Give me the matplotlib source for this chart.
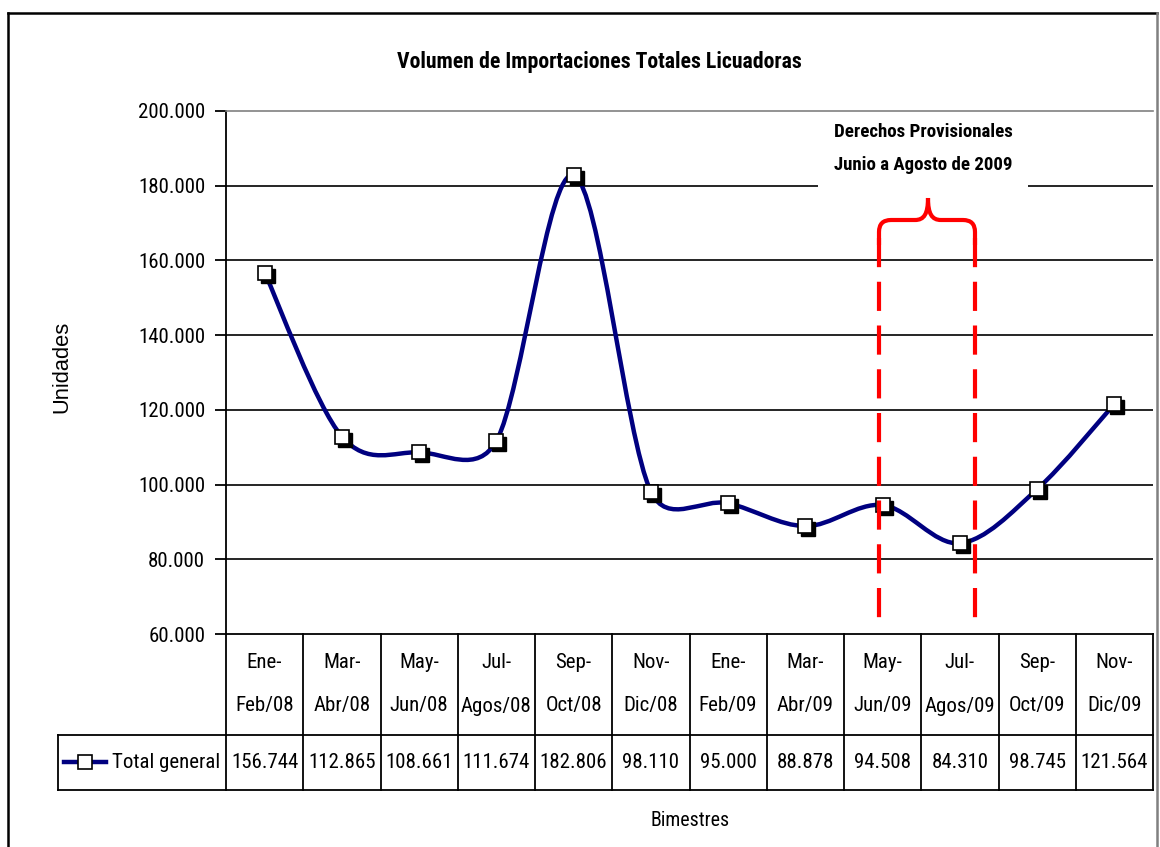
import matplotlib
matplotlib.use("Agg")
import matplotlib.pyplot as plt
import matplotlib.transforms as mtransforms
import matplotlib.font_manager as fm
from matplotlib.font_manager import FontProperties
from matplotlib.path import Path
from matplotlib.patches import PathPatch, Rectangle
from matplotlib.lines import Line2D
import numpy as np

# ---------------- data ----------------
categories = ["Ene-\nFeb/08", "Mar-\nAbr/08", "May-\nJun/08", "Jul-\nAgos/08",
              "Sep-\nOct/08", "Nov-\nDic/08", "Ene-\nFeb/09", "Mar-\nAbr/09",
              "May-\nJun/09", "Jul-\nAgos/09", "Sep-\nOct/09", "Nov-\nDic/09"]
values = [156744, 112865, 108661, 111674, 182806, 98110,
          95000, 88878, 94508, 84310, 98745, 121564]
value_labels = ["156.744", "112.865", "108.661", "111.674", "182.806", "98.110",
                "95.000", "88.878", "94.508", "84.310", "98.745", "121.564"]
yticks = [60000, 80000, 100000, 120000, 140000, 160000, 180000, 200000]
ytick_labels = ["60.000", "80.000", "100.000", "120.000", "140.000",
                "160.000", "180.000", "200.000"]
series_name = "Total general"
title = "Volumen de Importaciones Totales Licuadoras"
note_lines = ["Derechos Provisionales", "Junio a Agosto de 2009"]
ylabel = "Unidades"
xlabel = "Bimestres"

NAVY = "#000080"
RED = "#FF0000"

# ---------------- font choice (prefer a narrow face) ----------------
entries = fm.fontManager.ttflist
def available(name, stretch=None):
    for e in entries:
        if e.name == name and (stretch is None or str(e.stretch) in stretch):
            return True
    return False
cands = [("Liberation Sans Narrow", None), ("Arial Narrow", None),
         ("Roboto Condensed", None), ("Open Sans Condensed", None),
         ("Roboto", ("condensed", "semi-condensed")),
         ("Open Sans", ("condensed", "semi-condensed")),
         ("DejaVu Sans", ("condensed", "semi-condensed"))]
FAM, STRETCH = "Liberation Sans", "normal"
for name, st in cands:
    if available(name, st):
        FAM = name
        STRETCH = "condensed" if st else "normal"
        break
plt.rcParams["font.family"] = [FAM, "DejaVu Sans"]

def fprop(bold=False, wide=False):
    if wide:
        return FontProperties(family=["Liberation Sans", "DejaVu Sans"],
                              weight="bold" if bold else "normal")
    return FontProperties(family=[FAM, "DejaVu Sans"], stretch=STRETCH,
                          weight="bold" if bold else "normal")

W, H = 1160, 847
fig = plt.figure(figsize=(W / 100, H / 100), dpi=100)
fig.patch.set_facecolor("white")
renderer = fig.canvas.get_renderer()

def fit_size(s, target_w, bold=False, wide=False, cap=40):
    fp = fprop(bold, wide)
    fp.set_size(10)
    t = fig.text(0, 0, s, fontproperties=fp)
    w = t.get_window_extent(renderer).width
    t.remove()
    return min(cap, 10 * target_w / w)

SZ = fit_size("156.744", 67, cap=20)
SZ_TITLE = fit_size(title, 404, bold=True, cap=22)
SZ_NOTE = fit_size(note_lines[0], 178, bold=True, cap=18)
SZ_XLAB = fit_size(xlabel, 78, cap=20)
SZ_YLAB = fit_size(ylabel, 93, wide=True, cap=20)

def txt(x, y, s, size, bold=False, wide=False, transform=None, **kw):
    fp = fprop(bold, wide)
    fp.set_size(size)
    return fig.text(x, y, s, fontproperties=fp, transform=transform, **kw)

# pixel transform (origin top-left)
px = mtransforms.Affine2D().scale(1 / W, -1 / H).translate(0, 1) + fig.transFigure

L, R, T, B = 226, 1153, 111, 634
ax = fig.add_axes([L / W, (H - B) / H, (R - L) / W, (B - T) / H])
n = len(values)
ax.set_xlim(-0.5, n - 0.5)
ax.set_ylim(yticks[0], yticks[-1])
ax.set_xticks([])
ax.set_yticks(yticks)
tfp = fprop()
tfp.set_size(SZ)
ax.set_yticklabels(ytick_labels, fontproperties=tfp)
ax.tick_params(axis="y", direction="out", length=8, width=1.3, pad=7, color="black")
ax.spines["right"].set_visible(False)
ax.spines["top"].set_color("#808080")
ax.spines["top"].set_linewidth(1.2)
ax.spines["left"].set_linewidth(1.3)
ax.spines["bottom"].set_linewidth(1.3)
for yv in yticks[1:-1]:
    ax.axhline(yv, color="black", lw=1.2, zorder=1)

# smooth line (Excel-like bezier smoothing, computed in screen space)
sx = (R - L) / n
sy = (B - T) / (yticks[-1] - yticks[0])
P = np.column_stack([np.arange(n) * sx, np.array(values, float) * sy])

def ctrl(prev, cur, nxt, seg_len):
    v = (nxt - prev) / 6.0
    ln = np.hypot(*v)
    lim = seg_len / 2.0
    if ln > lim and ln > 0:
        v = v * lim / ln
    return v

verts = [tuple(P[0])]
codes = [Path.MOVETO]
for i in range(n - 1):
    p0 = P[i - 1] if i > 0 else P[i]
    p1, p2 = P[i], P[i + 1]
    p3 = P[i + 2] if i + 2 < n else P[i + 1]
    seg = np.hypot(*(p2 - p1))
    c1 = p1 + ctrl(p0, p1, p2, seg)
    c2 = p2 - ctrl(p1, p2, p3, seg)
    verts += [tuple(c1), tuple(c2), tuple(p2)]
    codes += [Path.CURVE4] * 3
verts = [(vx / sx, vy / sy) for vx, vy in verts]
curve = PathPatch(Path(verts, codes), facecolor="none", edgecolor=NAVY, lw=3.2,
                  zorder=3, capstyle="round", joinstyle="round")
ax.add_patch(curve)

xs = np.arange(n, dtype=float)
ys = np.array(values, dtype=float)
shadow = mtransforms.offset_copy(ax.transData, fig=fig, x=3, y=-3, units="dots")
ax.plot(xs, ys, ls="none", marker="s", ms=9.8, mfc="black", mec="black",
        transform=shadow, zorder=4, clip_on=False)
ax.plot(xs, ys, ls="none", marker="s", ms=9.8, mfc="white", mec="black",
        mew=1.2, zorder=5, clip_on=False)

# ---------------- annotation (provisional duties) ----------------
fig.add_artist(Rectangle((818, 113), 210, 75, transform=px, facecolor="white",
                         edgecolor="none", zorder=6))
txt(923, 132, note_lines[0], SZ_NOTE, bold=True, transform=px,
    ha="center", va="center", zorder=7)
txt(923, 165, note_lines[1], SZ_NOTE, bold=True, transform=px,
    ha="center", va="center", zorder=7)

for xl in (879, 975):
    fig.add_artist(Line2D([xl, xl], [238, 625], transform=px, color=RED, lw=3,
                          dashes=(7, 3.5), zorder=6))
bverts = [(879, 245), (879, 232), (879, 220), (891, 220), (915, 220),
          (924, 220), (928, 214), (928, 198),
          (928, 214), (932, 220), (941, 220),
          (963, 220), (975, 220), (975, 232), (975, 245)]
bcodes = [Path.MOVETO, Path.LINETO, Path.CURVE3, Path.CURVE3, Path.LINETO,
          Path.CURVE4, Path.CURVE4, Path.CURVE4,
          Path.CURVE4, Path.CURVE4, Path.CURVE4,
          Path.LINETO, Path.CURVE3, Path.CURVE3, Path.LINETO]
fig.add_artist(PathPatch(Path(bverts, bcodes), transform=px, facecolor="none",
                         edgecolor=RED, lw=3, zorder=6, capstyle="butt"))

# ---------------- data table ----------------
blend = mtransforms.blended_transform_factory(ax.transData, px)
row1_top, row1_bot, row2_bot = B, 735, 790
def hline(x0, x1, y):
    fig.add_artist(Line2D([x0, x1], [y, y], transform=px, color="black", lw=1.3))
def vline(x, y0, y1):
    fig.add_artist(Line2D([x, x], [y0, y1], transform=px, color="black", lw=1.3))

hline(58, R, row1_bot)
hline(58, R, row2_bot)
vline(58, row1_bot, row2_bot)
vline(L, row1_top, row2_bot)
for i in range(1, n + 1):
    vline(L + (R - L) * i / n, row1_top, row2_bot)
for i, (cat, lab) in enumerate(zip(categories, value_labels)):
    l1, l2 = cat.split("\n")
    txt(i, 663, l1, SZ, transform=blend, ha="center", va="center")
    txt(i, 706, l2, SZ, transform=blend, ha="center", va="center")
    txt(i, 763, lab, SZ, transform=blend, ha="center", va="center")

fig.add_artist(Line2D([64, 106], [762, 762], transform=px, color=NAVY, lw=3.2))
fig.add_artist(Line2D([85], [762], transform=px, ls="none", marker="s", ms=9.8,
                      mfc="white", mec="black", mew=1.2))
txt(112, 763, series_name, SZ, transform=px, ha="left", va="center")

# ---------------- titles & frame ----------------
txt(599, 62, title, SZ_TITLE, bold=True, transform=px, ha="center", va="center")
txt(62, 367, ylabel, SZ_YLAB, wide=True, transform=px, ha="center", va="center",
    rotation=90)
txt(690, 821, xlabel, SZ_XLAB, transform=px, ha="center", va="center")

fig.add_artist(Line2D([8, 1157], [13, 13], transform=px, color="black", lw=1.8))
fig.add_artist(Line2D([8, 8], [13, 847], transform=px, color="black", lw=1.8))
fig.add_artist(Line2D([1157, 1157], [13, 847], transform=px, color="#808080", lw=1.8))

fig.savefig("out.png", dpi=100, facecolor="white")
